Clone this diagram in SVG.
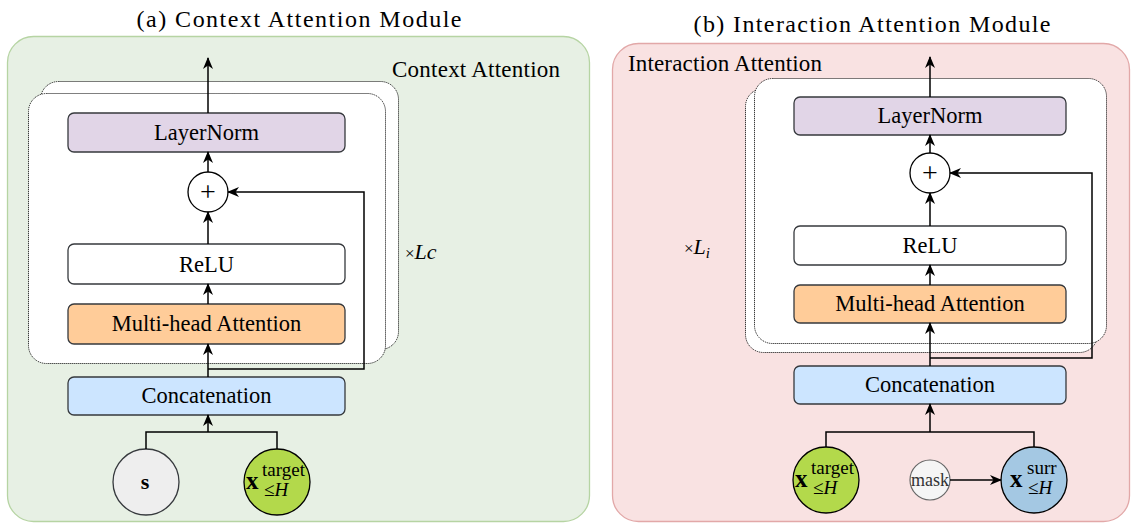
<svg xmlns="http://www.w3.org/2000/svg" width="1132" height="523" viewBox="0 0 1132 523">
<defs>
<marker id="arr" markerUnits="userSpaceOnUse" markerWidth="12" markerHeight="11" viewBox="0 0 12 11" refX="11" refY="5.5" orient="auto">
<path d="M0,0.5 L12,5.5 L0,10.5 L3.5,5.5 z" fill="#000"/>
</marker>
<style>
text{font-family:"Liberation Serif","Times New Roman",serif;fill:#000}
.lbl{font-size:22.5px;text-anchor:middle}
.box{stroke:#36393d;stroke-width:1.3}
.dot{fill:#fff;stroke:#000;stroke-width:1;stroke-dasharray:1 1}
.con{fill:none;stroke:#000;stroke-width:1.5}
.arr{marker-end:url(#arr)}
.sup{font-size:19px}
.bx{font-size:25px;font-weight:bold}
</style>
</defs>

<!-- Panel (a) -->
<g id="panel-a">
<text x="299" y="27" font-size="24" text-anchor="middle" textLength="325" lengthAdjust="spacing">(a) Context Attention Module</text>
<rect x="7.5" y="36.5" width="582" height="485" rx="26" fill="#e7f0e4" stroke="#b6d4a3" stroke-width="1.3"/>
<text x="392" y="77" font-size="23" textLength="168" lengthAdjust="spacing">Context Attention</text>
<text x="405" y="259" font-size="17">×<tspan font-style="italic" font-size="22">Lc</tspan></text>
</g>
<g id="stack-a">
<rect class="dot" x="40.5" y="81.5" width="358" height="268" rx="18"/>
<rect class="dot" x="28.5" y="93.5" width="357" height="270" rx="18"/>
</g>
<g id="layernorm-a"><rect class="box" x="68" y="113" width="277" height="39" rx="6" fill="#e1d5e7" stroke="#9673a6"/><text class="lbl" x="206.5" y="140">LayerNorm</text></g>
<g id="plus-a"><circle cx="208" cy="192" r="20" fill="#fff" stroke="#000" stroke-width="1.3"/><text x="208" y="201" font-size="28" text-anchor="middle">+</text></g>
<g id="relu-a"><rect class="box" x="68" y="244" width="277" height="40" rx="6" fill="#fff" stroke="#000"/><text class="lbl" x="206.5" y="272">ReLU</text></g>
<g id="mha-a"><rect class="box" x="68" y="304" width="277" height="40" rx="6" fill="#ffcc99"/><text class="lbl" x="206.5" y="331">Multi-head Attention</text></g>
<g id="concat-a"><rect class="box" x="68" y="377" width="277" height="38" rx="6" fill="#cce5ff"/><text class="lbl" x="206.5" y="403">Concatenation</text></g>
<g id="s-a"><circle cx="146" cy="482" r="33" fill="#eeeeee" stroke="#36393d" stroke-width="1.3"/><text x="145" y="489" font-size="22" font-weight="bold" text-anchor="middle">s</text></g>
<g id="target-a"><circle cx="277" cy="482" r="33" fill="#b3d94b" stroke="#000" stroke-width="1.3"/>
<text class="bx" x="246" y="489">x</text>
<text class="sup" x="262" y="476">target</text>
<text class="sup" x="264" y="496">≤<tspan font-style="italic">H</tspan></text></g>

<!-- Panel (b) -->
<g id="panel-b">
<text x="872" y="32" font-size="24" text-anchor="middle" textLength="357" lengthAdjust="spacing">(b) Interaction Attention Module</text>
<rect x="612.5" y="43.5" width="517" height="478" rx="26" fill="#f9e2e2" stroke="#e2a8a8" stroke-width="1.3"/>
<text x="628" y="71" font-size="23" textLength="194" lengthAdjust="spacing">Interaction Attention</text>
<text x="684" y="254" font-size="17">×<tspan font-style="italic" font-size="22">L</tspan><tspan font-style="italic" font-size="15" dy="4">i</tspan></text>
</g>
<g id="stack-b">
<rect class="dot" x="745.5" y="88.5" width="352" height="264" rx="18"/>
<rect class="dot" x="754.5" y="78.5" width="352" height="265" rx="18"/>
</g>
<g id="layernorm-b"><rect class="box" x="794" y="97" width="272" height="38" rx="6" fill="#e1d5e7" stroke="#9673a6"/><text class="lbl" x="930" y="123">LayerNorm</text></g>
<g id="plus-b"><circle cx="930" cy="173" r="20" fill="#fff" stroke="#000" stroke-width="1.3"/><text x="930" y="182" font-size="28" text-anchor="middle">+</text></g>
<g id="relu-b"><rect class="box" x="794" y="226" width="272" height="39" rx="6" fill="#fff" stroke="#000"/><text class="lbl" x="930" y="253">ReLU</text></g>
<g id="mha-b"><rect class="box" x="794" y="285" width="272" height="38" rx="6" fill="#ffcc99"/><text class="lbl" x="930" y="311">Multi-head Attention</text></g>
<g id="concat-b"><rect class="box" x="794" y="366" width="272" height="38" rx="6" fill="#cce5ff"/><text class="lbl" x="930" y="392">Concatenation</text></g>
<g id="target-b"><circle cx="826" cy="480" r="33" fill="#b3d94b" stroke="#000" stroke-width="1.3"/>
<text class="bx" x="795" y="487">x</text>
<text class="sup" x="811" y="474">target</text>
<text class="sup" x="813" y="494">≤<tspan font-style="italic">H</tspan></text></g>
<g id="mask-b"><circle cx="930" cy="480" r="20" fill="#f5f5f5" stroke="#666666" stroke-width="1.2"/><text x="930" y="486" font-size="18" text-anchor="middle" style="fill:#333">mask</text></g>
<g id="surr-b"><circle cx="1034" cy="480" r="33" fill="#a4c8e3" stroke="#000" stroke-width="1.3"/>
<text class="bx" x="1010" y="487">x</text>
<text class="sup" x="1027" y="474">surr</text>
<text class="sup" x="1028" y="494">≤<tspan font-style="italic">H</tspan></text></g>

<!-- Connectors -->
<g id="connectors">
<path class="con arr" d="M208,113 V58"/>
<path class="con arr" d="M208,172 V152"/>
<path class="con arr" d="M208,244 V212"/>
<path class="con arr" d="M208,304 V284"/>
<path class="con arr" d="M208,377 V344"/>
<path class="con arr" d="M208,369 H364 V192 H228"/>
<path class="con" d="M146,449 V432 H277 V449"/>
<path class="con arr" d="M208,432 V415"/>

<path class="con arr" d="M930,97 V57"/>
<path class="con arr" d="M930,153 V135"/>
<path class="con arr" d="M930,226 V193"/>
<path class="con arr" d="M930,285 V265"/>
<path class="con arr" d="M930,366 V323"/>
<path class="con arr" d="M930,358 H1092 V173 H950"/>
<path class="con" d="M826,447 V432 H1034 V447"/>
<path class="con arr" d="M930,432 V404"/>
<path class="con arr" d="M950,480 H1001"/>
</g>
</svg>
